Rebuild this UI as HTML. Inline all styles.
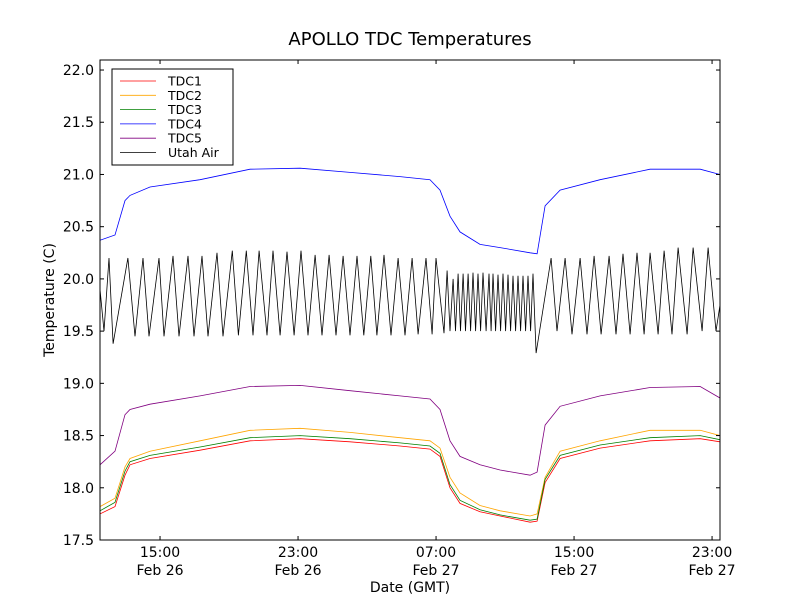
<!DOCTYPE html>
<html><head><meta charset="utf-8"><style>
body{margin:0;background:#fff;}
svg{display:block;font-family:"DejaVu Sans","Liberation Sans",sans-serif;}
</style></head><body>
<svg id="chart" width="800" height="600"></svg>
<script>
// data: time in hours since Feb 26 00:00 (GMT)
const tdcTimes=[11.52,12.39,12.97,13.26,14.42,17.32,20.22,23.12,26.01,28.91,30.65,31.23,31.81,32.39,33.55,34.71,36.45,36.86,37.32,38.19,40.51,43.41,46.31,47.46];
const tdc1=[17.75,17.82,18.12,18.22,18.28,18.36,18.45,18.47,18.44,18.4,18.37,18.3,18.0,17.85,17.77,17.73,17.67,17.68,18.05,18.28,18.38,18.45,18.47,18.44];
const tdc2=[17.82,17.9,18.2,18.28,18.35,18.45,18.55,18.57,18.53,18.48,18.45,18.38,18.1,17.95,17.83,17.78,17.73,17.75,18.1,18.35,18.45,18.55,18.55,18.5];
const tdc3=[17.78,17.86,18.16,18.25,18.31,18.39,18.48,18.5,18.47,18.43,18.4,18.33,18.03,17.88,17.79,17.74,17.69,17.7,18.08,18.31,18.41,18.48,18.5,18.46];
const tdc4=[20.37,20.42,20.75,20.8,20.88,20.95,21.05,21.06,21.02,20.98,20.95,20.85,20.6,20.45,20.33,20.3,20.25,20.24,20.7,20.85,20.95,21.05,21.05,21.0];
const tdc5=[18.22,18.35,18.7,18.75,18.8,18.88,18.97,18.98,18.93,18.88,18.85,18.75,18.45,18.3,18.22,18.17,18.12,18.15,18.6,18.78,18.88,18.96,18.97,18.86];
const airTimes=[11.52,11.75,12.04,12.28,13.14,13.55,14.01,14.36,14.94,15.23,15.75,16.10,16.62,16.97,17.43,17.78,18.30,18.65,19.19,19.54,20.00,20.39,20.74,21.20,21.55,21.96,22.36,22.77,23.17,23.58,23.99,24.39,24.80,25.20,25.61,26.01,26.42,26.81,27.22,27.57,27.98,28.39,28.80,29.20,29.61,29.96,30.42,30.77,31.00,31.46,
31.64,31.81,31.99,32.13,32.28,32.42,32.57,32.71,32.86,33.00,33.14,33.29,33.43,33.58,33.72,33.90,34.07,34.19,34.30,34.45,34.59,34.74,34.88,35.03,35.17,35.32,35.46,35.61,35.75,35.90,36.04,36.19,36.33,36.48,36.62,36.80,
37.67,38.01,38.48,38.88,39.35,39.75,40.16,40.57,41.03,41.43,41.84,42.25,42.65,43.06,43.41,43.87,44.22,44.68,45.03,45.55,45.90,46.42,46.77,47.23,47.46];
const airValues=[19.9,19.5,20.2,19.38,20.2,19.45,20.2,19.45,20.2,19.45,20.22,19.45,20.22,19.45,20.22,19.45,20.25,19.45,20.27,19.46,20.27,19.46,20.27,19.46,20.27,19.46,20.26,19.46,20.27,19.46,20.23,19.46,20.23,19.46,20.22,19.46,20.22,19.46,20.22,19.46,20.23,19.46,20.2,19.46,20.2,19.47,20.2,19.47,20.2,19.48,
20.08,19.5,20.0,19.5,20.05,19.5,20.05,19.5,20.05,19.5,20.06,19.5,20.05,19.5,20.06,19.5,20.05,19.5,20.05,19.5,20.04,19.5,20.05,19.5,20.04,19.5,20.03,19.5,20.03,19.5,20.03,19.5,20.03,19.5,20.05,19.29,
20.2,19.5,20.2,19.47,20.2,19.47,20.22,19.47,20.22,19.47,20.24,19.47,20.25,19.47,20.25,19.47,20.27,19.47,20.3,19.47,20.3,19.5,20.3,19.5,19.75];
const yTicks=[17.5,18.0,18.5,19.0,19.5,20.0,20.5,21.0,21.5,22.0];
const xTicks=[15,23,31,39,47];
const xTickLabels=[["15:00","Feb 26"],["23:00","Feb 26"],["07:00","Feb 27"],["15:00","Feb 27"],["23:00","Feb 27"]];
const seriesNames=["TDC1","TDC2","TDC3","TDC4","TDC5","Utah Air"];
const seriesColors=["#ff0000","#ffa500","#008000","#0000ff","#800080","#000000"];

const L=100,R=720,T=60,B=540;
const X0=11.52,X1=47.46,Y0=17.5,Y1=22.096;
const sx=h=>L+(h-X0)/(X1-X0)*(R-L);
const sy=v=>B-(v-Y0)/(Y1-Y0)*(B-T);
const NS="http://www.w3.org/2000/svg";
const svg=document.getElementById('chart');
function mk(tag,attrs,parent){const e=document.createElementNS(NS,tag);for(const k in attrs)e.setAttribute(k,attrs[k]);(parent||svg).appendChild(e);return e;}

const clip=mk('clipPath',{id:'pc'});mk('rect',{x:L,y:T,width:R-L,height:B-T},clip);
const plot=mk('g',{'clip-path':'url(#pc)'});


const allSeries=[[tdcTimes,tdc1],[tdcTimes,tdc2],[tdcTimes,tdc3],[tdcTimes,tdc4],[tdcTimes,tdc5],[airTimes,airValues]];
allSeries.forEach((s,i)=>{
  const pts=s[0].map((t,j)=>sx(t).toFixed(1)+','+sy(s[1][j]).toFixed(1)).join(' ');
  const p=mk('polyline',{points:pts,fill:'none',stroke:seriesColors[i],'stroke-width':0.8},plot);
  
  
});

const frame=mk('rect',{x:L,y:T,width:R-L,height:B-T,fill:'none',stroke:'#000','stroke-width':1});



yTicks.forEach(v=>{
  const y=sy(v);
  mk('line',{x1:L,x2:L+4,y1:y,y2:y,stroke:'#000'});
  mk('line',{x1:R,x2:R-4,y1:y,y2:y,stroke:'#000'});
  const t=mk('text',{x:L-6,y:y+5,'text-anchor':'end','font-size':14});
  t.textContent=v.toFixed(1);
  
  
});
xTicks.forEach((h,i)=>{
  const x=sx(h);
  mk('line',{x1:x,x2:x,y1:B,y2:B-4,stroke:'#000'});
  mk('line',{x1:x,x2:x,y1:T,y2:T+4,stroke:'#000'});
  xTickLabels[i].forEach((s,k)=>{
    const t=mk('text',{x:x,y:B+17+k*18,'text-anchor':'middle','font-size':14});
    t.textContent=s;
    
    
  });
});

const title=mk('text',{x:410,y:45,'text-anchor':'middle','font-size':18});
title.textContent='APOLLO TDC Temperatures';


const xl=mk('text',{x:410,y:592,'text-anchor':'middle','font-size':14});
xl.textContent='Date (GMT)';


const yl=mk('text',{x:54,y:300,'text-anchor':'middle','font-size':14,transform:'rotate(-90 54 300)'});
yl.textContent='Temperature (C)';



const lg=mk('g',{});


mk('rect',{x:112,y:69,width:121,height:96,fill:'#fff',stroke:'#000'},lg);
seriesNames.forEach((n,i)=>{
  const y=81+i*14.3;
  const ln=mk('line',{x1:120,x2:156,y1:y,y2:y,stroke:seriesColors[i],'stroke-width':0.8},lg);
  
  
  const t=mk('text',{x:168,y:y+4.5,'font-size':12.5},lg);
  t.textContent=n;
  
  
});
</script>
</body></html>
